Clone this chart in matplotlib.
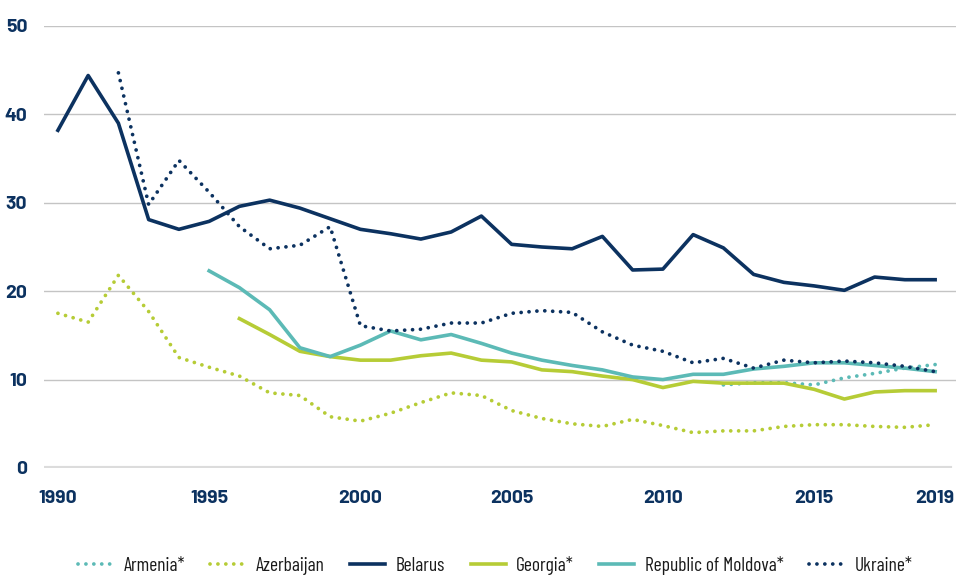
import matplotlib
matplotlib.use('Agg')
import matplotlib.pyplot as plt
import numpy as np

# Datos
years = list(range(1990, 2020))

belarus = [38.2, 44.4, 39.0, 28.1, 27.0, 27.9, 29.6, 30.3, 29.4, 28.2,
           27.0, 26.5, 25.9, 26.7, 28.5, 25.3, 25.0, 24.8, 26.2, 22.4,
           22.5, 26.4, 24.9, 21.9, 21.0, 20.6, 20.1, 21.6, 21.3, 21.3]
ukraine_years = list(range(1992, 2020))
ukraine = [44.7, 29.8, 34.8, 31.2, 27.3, 24.8, 25.2, 27.3,
           16.1, 15.5, 15.7, 16.4, 16.4, 17.5, 17.8, 17.6, 15.4, 13.9,
           13.2, 11.9, 12.4, 11.3, 12.2, 11.9, 12.1, 11.9, 11.5, 10.9]
azerbaijan = [17.5, 16.5, 21.8, 17.7, 12.5, 11.4, 10.4, 8.5, 8.2, 5.8,
              5.3, 6.2, 7.4, 8.5, 8.2, 6.5, 5.6, 5.0, 4.7, 5.5,
              4.8, 4.0, 4.2, 4.2, 4.7, 4.9, 4.9, 4.7, 4.6, 4.9]
moldova_years = list(range(1995, 2020))
moldova = [22.3, 20.4, 17.9, 13.6, 12.6, 13.9, 15.5, 14.5, 15.1, 14.1,
           13.0, 12.2, 11.6, 11.1, 10.3, 10.0, 10.6, 10.6, 11.2, 11.5,
           11.9, 11.9, 11.6, 11.3, 10.9]
georgia_years = list(range(1996, 2020))
georgia = [16.9, 15.1, 13.2, 12.6, 12.2, 12.2, 12.7, 13.0, 12.2, 12.0,
           11.1, 10.9, 10.4, 10.0, 9.1, 9.8, 9.6, 9.6, 9.6, 8.9,
           7.8, 8.6, 8.75, 8.75]
armenia_years = list(range(2012, 2020))
armenia = [9.4, 9.65, 9.65, 9.4, 10.2, 10.7, 11.3, 11.7]

x_ticks = [1990, 1995, 2000, 2005, 2010, 2015, 2019]
y_ticks = [0, 10, 20, 30, 40, 50]

navy = '#0c3260'
teal = '#5cbab6'
lime = '#b6cc36'

fig = plt.figure(figsize=(9.56, 5.75), dpi=100)
ax = fig.add_axes([44 / 956, 1 - 468 / 575, 1 - 44 / 956, (468 - 26) / 575])

lw_solid = 2.6
lw_dot = 2.7
dots = (0, (0.01, 2.1))

ax.plot(armenia_years, armenia, color=teal, lw=lw_dot, linestyle=dots,
        dash_capstyle='round', label='Armenia*', zorder=3)
ax.plot(years, azerbaijan, color=lime, lw=lw_dot, linestyle=dots,
        dash_capstyle='round', label='Azerbaijan', zorder=3)
ax.plot(years, belarus, color=navy, lw=lw_solid, label='Belarus', zorder=3)
ax.plot(georgia_years, georgia, color=lime, lw=lw_solid, label='Georgia*', zorder=3)
ax.plot(moldova_years, moldova, color=teal, lw=lw_solid,
        label='Republic of Moldova*', zorder=3)
ax.plot(ukraine_years, ukraine, color=navy, lw=lw_dot, linestyle=dots,
        dash_capstyle='round', label='Ukraine*', zorder=4)

# Rejilla
for y in y_ticks[1:]:
    ax.axhline(y, color='#c4c4c4', lw=1.0, zorder=1)
ax.axhline(0, color='#dcdcdc', lw=3.0, zorder=1, xmax=0.993)

ax.set_xlim(1989.54, 2019.69)
ax.set_ylim(0, 50)
for s in ax.spines.values():
    s.set_visible(False)

tick_font = dict(family=['Barlow', 'Roboto', 'DejaVu Sans'], weight='bold', size=14)
ax.set_xticks(x_ticks)
ax.set_xticklabels([str(t) for t in x_ticks], color=navy, **tick_font)
ax.set_yticks(y_ticks)
ax.set_yticklabels([str(t) for t in y_ticks], color=navy, **tick_font)
ax.tick_params(axis='x', length=0, pad=16)
ax.tick_params(axis='y', length=0, pad=12)

leg = fig.legend(loc='center', bbox_to_anchor=(0.518, 0.017), ncol=6,
                 frameon=False, handlelength=1.8, handletextpad=0.55,
                 columnspacing=1.3,
                 prop=dict(family=['Barlow Condensed', 'Roboto Condensed', 'DejaVu Sans'], size=14))
for t in leg.get_texts():
    t.set_color('#1a1a1a')

plt.savefig('out.png', dpi=100)
plt.close()
